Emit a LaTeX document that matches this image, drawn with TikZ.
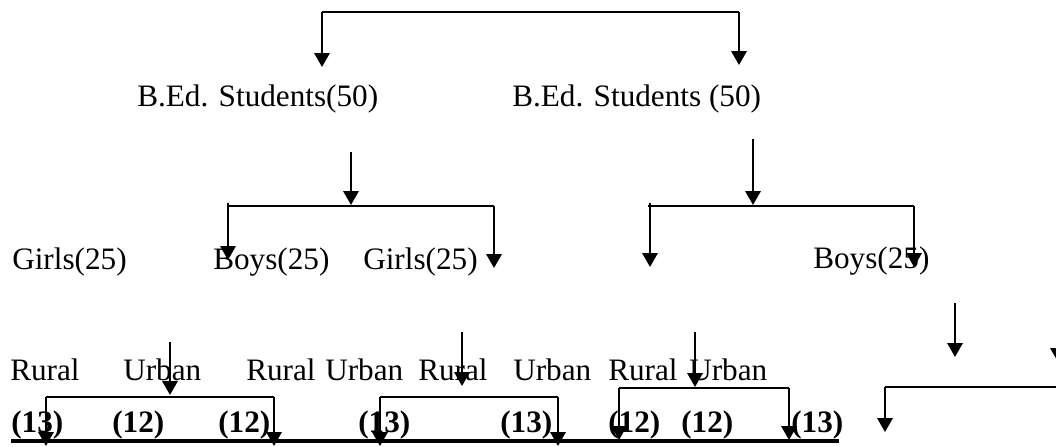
\documentclass[tikz,border=0pt]{standalone}
\usepackage{fontspec}
\setmainfont{Liberation Serif}
\usetikzlibrary{arrows.meta}
\begin{document}
\begin{tikzpicture}[x=0.75pt,y=-0.75pt,
  lbl/.style={anchor=base west,inner sep=0pt,font=\fontsize{23.4}{28}\selectfont},
  num/.style={anchor=base west,inner sep=0pt,font=\fontsize{23.4}{28}\selectfont\bfseries},
  bar/.style={line width=1.3pt},
  drop/.style={line width=1.8pt,-{Triangle[width=11.5pt,length=10.5pt]}},
  baseline rule/.style={line width=3.3pt}]
\useasboundingbox (0,0) rectangle (1056,446);
\clip (0,0) rectangle (1056,446);

% texts
\node[lbl] (s1) at (137,106) {B.Ed. Students(50)};
\node[lbl] (s2) at (512,106) {B.Ed. Students (50)};

\node[lbl] (g1) at (12,269) {Girls(25)};
\node[lbl] (b1) at (213,269) {Boys(25)};
\node[lbl] (g2) at (363,269) {Girls(25)};
\node[lbl] (b2) at (813,268) {Boys(25)};

\node[lbl] (r1) at (10,380) {Rural};
\node[lbl] (u1) at (123,380) {Urban};
\node[lbl] (r2) at (246,380) {Rural};
\node[lbl] (u2) at (325,380) {Urban};
\node[lbl] (r3) at (418,380) {Rural};
\node[lbl] (u3) at (513,380) {Urban};
\node[lbl] (r4) at (608,380) {Rural};
\node[lbl] (u4) at (689,380) {Urban};

\node[num] (n1) at (11,432) {(13)};
\node[num] (n2) at (112,432) {(12)};
\node[num] (n3) at (218,432) {(12)};
\node[num] (n4) at (358,432) {(13)};
\node[num] (n5) at (500,432) {(13)};
\node[num] (n6) at (608,432) {(12)};
\node[num] (n7) at (681,432) {(12)};
\node[num] (n8) at (791,432) {(13)};

% top bracket
\coordinate (tL) at (322,12);
\coordinate (tR) at (739,12);
\coordinate (tLe) at (322,67);
\coordinate (tRe) at (739,65);
\draw[bar] (tL) -- (tR);
\draw[drop] (tL) -- (tLe);
\draw[drop] (tR) -- (tRe);

% middle left bracket
\coordinate (mA) at (351,152);
\coordinate (mAe) at (351,205);
\coordinate (mL) at (228,206);
\coordinate (mR) at (494,206);
\coordinate (mLe) at (228,260);
\coordinate (mRe) at (494,268);
\draw[bar] (mL) -- (mR);
\draw[drop] (mA) -- (mAe);
\draw[drop] ([yshift=2.25pt]mL) -- (mLe);
\draw[drop] (mR) -- (mRe);

% middle right bracket
\coordinate (nA) at (753,139);
\coordinate (nAe) at (753,205);
\coordinate (nL) at (648,206);
\coordinate (nR) at (914,206);
\coordinate (nLe) at (650,267);
\coordinate (nRe) at (914,267);
\draw[bar] (nL) -- (nR);
\draw[drop] (nA) -- (nAe);
\draw[drop] (650,203) -- (nLe);
\draw[drop] (nR) -- (nRe);

% lower right
\coordinate (pA) at (955,303);
\coordinate (pAe) at (955,357);
\coordinate (qA) at (1058,303);
\coordinate (qAe) at (1058,362);
\coordinate (pL) at (885,387);
\coordinate (pR) at (1062,387);
\coordinate (pLe) at (885,432);
\draw[drop] (pA) -- (pAe);
\draw[drop] (qA) -- (qAe);
\draw[bar] (pL) -- (pR);
\draw[drop] (pL) -- (pLe);

% bottom group 1
\coordinate (aA) at (170,342);
\coordinate (aAe) at (170,395);
\coordinate (aL) at (46,397);
\coordinate (aR) at (274,397);
\coordinate (aLe) at (46,446);
\coordinate (aRe) at (274,446);
\draw[bar] (aL) -- (aR);
\draw[drop] (aA) -- (aAe);
\draw[drop] (aL) -- (aLe);
\draw[drop] (aR) -- (aRe);

% bottom group 2
\coordinate (bA) at (462,332);
\coordinate (bAe) at (462,386);
\coordinate (bL) at (380,397);
\coordinate (bR) at (558,397);
\coordinate (bLe) at (380,446);
\coordinate (bRe) at (558,446);
\draw[bar] (bL) -- (bR);
\draw[drop] (bA) -- (bAe);
\draw[drop] (bL) -- (bLe);
\draw[drop] (bR) -- (bRe);

% bottom group 3
\coordinate (cA) at (695,332);
\coordinate (cAe) at (695,387);
\coordinate (cL) at (619,388);
\coordinate (cR) at (789,388);
\coordinate (cLe) at (619,440);
\coordinate (cRe) at (789,440);
\draw[bar] (cL) -- (cR);
\draw[drop] (cA) -- (cAe);
\draw[drop] (cL) -- (cLe);
\draw[drop] (cR) -- (cRe);

% thick base rule
\coordinate (zL) at (11,441);
\coordinate (zR) at (839,441);
\draw[baseline rule] (zL) -- (zR);
\end{tikzpicture}
\end{document}
